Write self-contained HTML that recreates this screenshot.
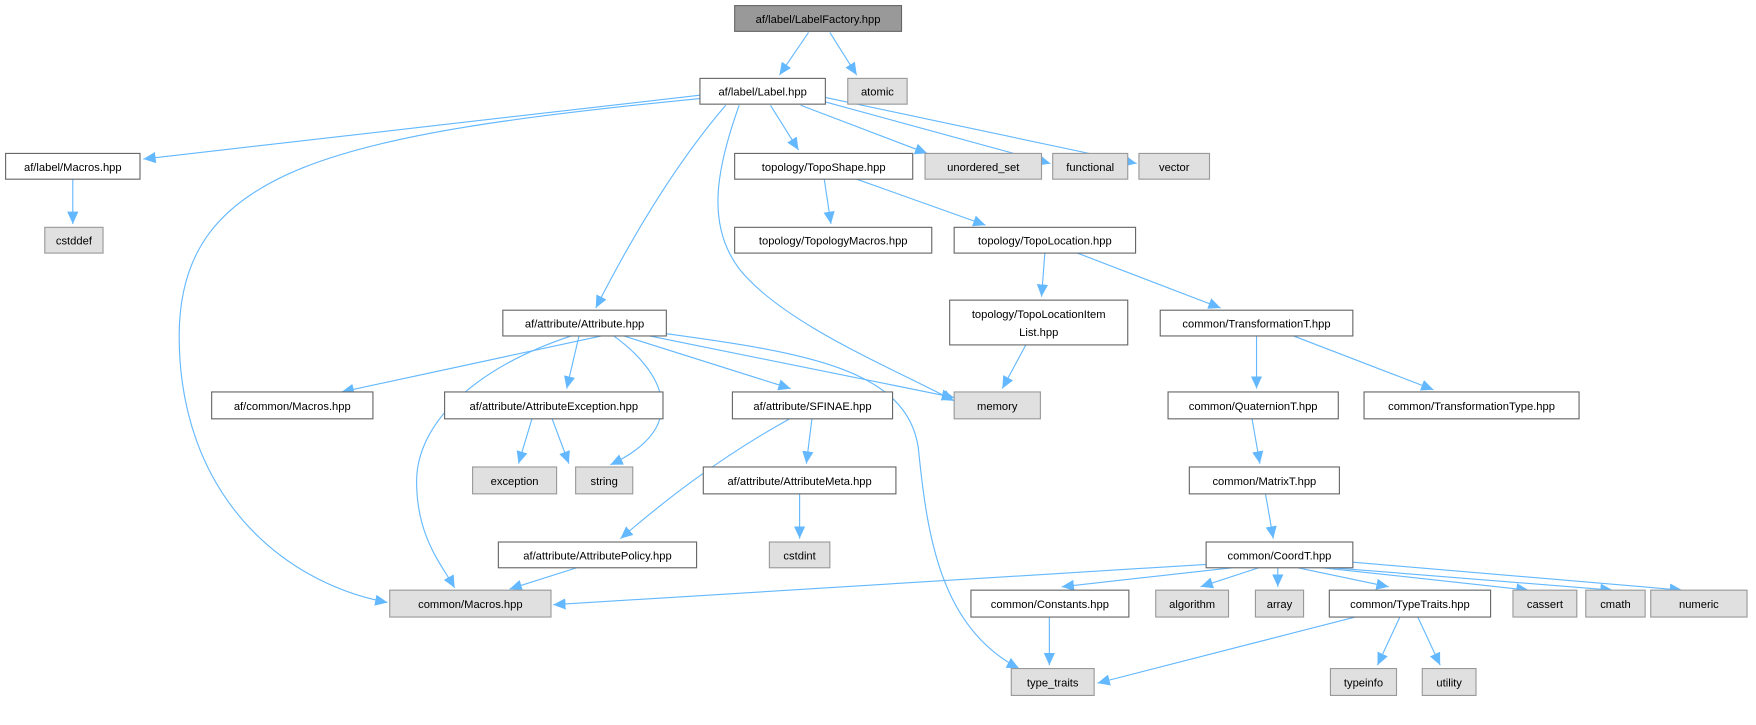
<!DOCTYPE html>
<html><head><meta charset="utf-8"><style>
html,body{margin:0;padding:0;background:#fff;}
svg{display:block;}
text{font-family:"Liberation Sans",Arial,sans-serif;font-size:10px;fill:#000;}
.n{fill:#fff;stroke:#666;stroke-width:1;}
.g{fill:#e0e0e0;stroke:#999;stroke-width:1;}
.e{fill:none;stroke:#63b8ff;stroke-width:1;marker-end:url(#a);}
</style></head><body>
<svg width="1756" height="725" viewBox="0 0 1568 647.4" preserveAspectRatio="none">
<defs><marker id="a" markerUnits="userSpaceOnUse" markerWidth="12" markerHeight="10" refX="11" refY="5" orient="auto"><path d="M0,0 L11,5 L0,10 z" fill="#63b8ff"/></marker></defs>
<g>
<path class="e" d="M722,29 L696,67"/>
<path class="e" d="M741,29 L765,67"/>
<path class="e" d="M625,85 L128,142"/>
<path class="e" d="M625,88 C300,120 160,150 160,300 C160,440 250,520 346,538"/>
<path class="e" d="M648,94 C600,150 560,220 532,275"/>
<path class="e" d="M660,94 C640,150 630,200 660,240 C700,290 800,330 852,358"/>
<path class="e" d="M688,94 L713,134"/>
<path class="e" d="M715,94 L828,137"/>
<path class="e" d="M737,91 L938,146"/>
<path class="e" d="M737,87 L1015,146"/>
<path class="e" d="M65,160 L65,200"/>
<path class="e" d="M736,160 L742,200"/>
<path class="e" d="M765,160 L880,201"/>
<path class="e" d="M933,226 L930,265"/>
<path class="e" d="M962,226 L1090,275"/>
<path class="e" d="M916,308 L895,347"/>
<path class="e" d="M1122,300 L1122,347"/>
<path class="e" d="M1155,300 L1280,348"/>
<path class="e" d="M1118,374 L1125,414"/>
<path class="e" d="M1130,441 L1137,481"/>
<path class="e" d="M537,300 L305,350"/>
<path class="e" d="M510,300 C420,330 372,380 372,430 C372,480 395,505 406,525"/>
<path class="e" d="M515,507 L455,526"/>
<path class="e" d="M517,300 L506,347"/>
<path class="e" d="M548,300 C590,330 620,380 545,415"/>
<path class="e" d="M557,300 L706,347"/>
<path class="e" d="M580,300 L852,355"/>
<path class="e" d="M595,298 C720,315 810,330 820,400 C828,480 840,560 910,597"/>
<path class="e" d="M475,374 L463,414"/>
<path class="e" d="M493,374 L508,414"/>
<path class="e" d="M705,374 C640,410 590,450 554,481"/>
<path class="e" d="M725,374 L720,414"/>
<path class="e" d="M714,441 L714,481"/>
<path class="e" d="M1077,504 L494,540"/>
<path class="e" d="M1100,507 L948,524"/>
<path class="e" d="M1124,507 L1072,524"/>
<path class="e" d="M1141,507 L1141,524"/>
<path class="e" d="M1159,507 L1240,524"/>
<path class="e" d="M1181,507 L1365,527"/>
<path class="e" d="M1190,507 L1440,527"/>
<path class="e" d="M1208,502 L1502,527"/>
<path class="e" d="M937,551 L937,594"/>
<path class="e" d="M1210,551 L980,610"/>
<path class="e" d="M1250,551 L1230,594"/>
<path class="e" d="M1266,551 L1286,594"/>
</g>
<g text-anchor="middle">
<rect x="656" y="5" width="149" height="23" fill="#999" stroke="#666"/><text x="730.5" y="20.5">af/label/LabelFactory.hpp</text>
<rect class="n" x="625" y="70" width="112" height="23"/><text x="681" y="85.5">af/label/Label.hpp</text>
<rect class="g" x="757" y="70" width="53" height="23"/><text x="783.5" y="85.5">atomic</text>
<rect class="n" x="5" y="137" width="120" height="23"/><text x="65" y="152.5">af/label/Macros.hpp</text>
<rect class="g" x="40" y="203" width="52" height="23"/><text x="66" y="218.5">cstddef</text>
<rect class="n" x="656" y="137" width="159" height="23"/><text x="735.5" y="152.5">topology/TopoShape.hpp</text>
<rect class="g" x="826" y="137" width="104" height="23"/><text x="878" y="152.5">unordered_set</text>
<rect class="g" x="940" y="137" width="67" height="23"/><text x="973.5" y="152.5">functional</text>
<rect class="g" x="1017" y="137" width="63" height="23"/><text x="1048.5" y="152.5">vector</text>
<rect class="n" x="656" y="203" width="176" height="23"/><text x="744" y="218.5">topology/TopologyMacros.hpp</text>
<rect class="n" x="852" y="203" width="162" height="23"/><text x="933" y="218.5">topology/TopoLocation.hpp</text>
<rect class="n" x="848" y="268" width="159" height="40"/><text x="927.5" y="284">topology/TopoLocationItem</text><text x="927.5" y="300">List.hpp</text>
<rect class="n" x="1036" y="277" width="172" height="23"/><text x="1122" y="292.5">common/TransformationT.hpp</text>
<rect class="n" x="449" y="277" width="146" height="23"/><text x="522" y="292.5">af/attribute/Attribute.hpp</text>
<rect class="g" x="852" y="350" width="77" height="24"/><text x="890.5" y="366">memory</text>
<rect class="n" x="189" y="350" width="144" height="24"/><text x="261" y="366">af/common/Macros.hpp</text>
<rect class="n" x="397" y="350" width="195" height="24"/><text x="494.5" y="366">af/attribute/AttributeException.hpp</text>
<rect class="n" x="654" y="350" width="143" height="24"/><text x="725.5" y="366">af/attribute/SFINAE.hpp</text>
<rect class="n" x="1043" y="350" width="152" height="24"/><text x="1119" y="366">common/QuaternionT.hpp</text>
<rect class="n" x="1218" y="350" width="192" height="24"/><text x="1314" y="366">common/TransformationType.hpp</text>
<rect class="g" x="422" y="417" width="75" height="24"/><text x="459.5" y="433">exception</text>
<rect class="g" x="514" y="417" width="51" height="24"/><text x="539.5" y="433">string</text>
<rect class="n" x="628" y="417" width="172" height="24"/><text x="714" y="433">af/attribute/AttributeMeta.hpp</text>
<rect class="n" x="1062" y="417" width="134" height="24"/><text x="1129" y="433">common/MatrixT.hpp</text>
<rect class="g" x="687" y="484" width="54" height="23"/><text x="714" y="499.5">cstdint</text>
<rect class="n" x="1077" y="484" width="131" height="23"/><text x="1142.5" y="499.5">common/CoordT.hpp</text>
<rect class="n" x="445" y="484" width="177" height="23"/><text x="533.5" y="499.5">af/attribute/AttributePolicy.hpp</text>
<rect class="g" x="348" y="527" width="144" height="24"/><text x="420" y="543">common/Macros.hpp</text>
<rect class="n" x="867" y="527" width="141" height="24"/><text x="937.5" y="543">common/Constants.hpp</text>
<rect class="g" x="1032" y="527" width="65" height="24"/><text x="1064.5" y="543">algorithm</text>
<rect class="g" x="1121" y="527" width="43" height="24"/><text x="1142.5" y="543">array</text>
<rect class="n" x="1187" y="527" width="144" height="24"/><text x="1259" y="543">common/TypeTraits.hpp</text>
<rect class="g" x="1351" y="527" width="57" height="24"/><text x="1379.5" y="543">cassert</text>
<rect class="g" x="1416" y="527" width="53" height="24"/><text x="1442.5" y="543">cmath</text>
<rect class="g" x="1474" y="527" width="86" height="24"/><text x="1517" y="543">numeric</text>
<rect class="g" x="903" y="597" width="74" height="24"/><text x="940" y="613">type_traits</text>
<rect class="g" x="1188" y="597" width="59" height="24"/><text x="1217.5" y="613">typeinfo</text>
<rect class="g" x="1270" y="597" width="48" height="24"/><text x="1294" y="613">utility</text>
</g>
</svg>
</body></html>
